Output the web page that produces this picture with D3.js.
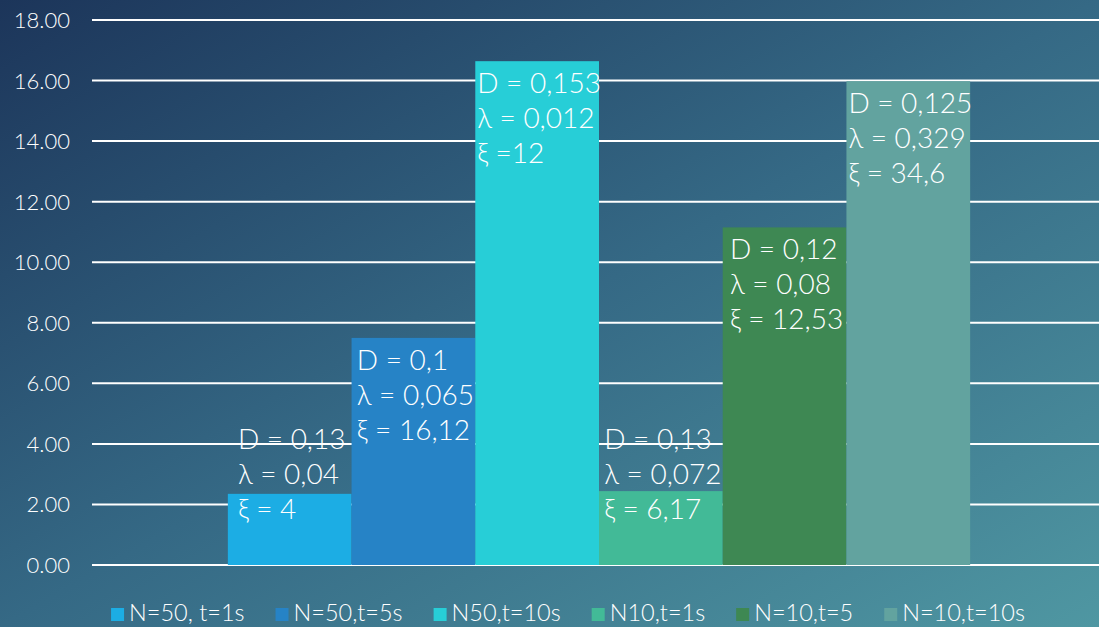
<!DOCTYPE html>
<html>
<head>
<meta charset="utf-8">
<script src="https://cdn.jsdelivr.net/npm/d3@7"></script>
<style>
  html, body { margin: 0; padding: 0; overflow: hidden; }
  svg { display: block; }
  text { font-family: "Lato", "Open Sans", sans-serif; font-weight: 300; fill: #ffffff; }
</style>
</head>
<body>
<svg id="chart" width="1099" height="627"></svg>
<script>
// Series shown as one clustered group
const seriesNames = ["N=50, t=1s", "N=50,t=5s", "N50,t=10s", "N10,t=1s", "N=10,t=5", "N=10,t=10s"];
const seriesValues = [2.35, 7.5, 16.64, 2.44, 11.15, 15.98];
const seriesColors = ["#1CADE4", "#2683C6", "#27CED7", "#42BA97", "#3E8853", "#62A39F"];
const labelD   = ["D = 0,13", "D = 0,1", "D = 0,153", "D = 0,13", "D = 0,12", "D = 0,125"];
const labelLam = ["λ = 0,04", "λ = 0,065", "λ = 0,012", "λ = 0,072", "λ = 0,08", "λ = 0,329"];
const labelXi  = ["ξ = 4", "ξ = 16,12", "ξ =12", "ξ = 6,17", "ξ = 12,53", "ξ = 34,6"];
const yTicks = [0, 2, 4, 6, 8, 10, 12, 14, 16, 18];

const W = 1099, H = 627;
const margin = { left: 92, right: -7, top: 20, bottom: 62 };
const svg = d3.select("#chart");

// Background gradient
const defs = svg.append("defs");
const bg = defs.append("linearGradient").attr("id", "bg")
  .attr("x1", "0%").attr("y1", "0%").attr("x2", "100%").attr("y2", "100%");
bg.append("stop").attr("offset", "0%").attr("stop-color", "#1C355A");
bg.append("stop").attr("offset", "50%").attr("stop-color", "#356985");
bg.append("stop").attr("offset", "100%").attr("stop-color", "#4F97A2");
svg.append("rect").attr("width", W).attr("height", H).attr("fill", "url(#bg)");

const x0 = d3.scaleBand().domain(["group"])
  .range([margin.left, W - margin.right]).paddingInner(0).paddingOuter(0.183);
const x1 = d3.scaleBand().domain(seriesNames).range([0, x0.bandwidth()]).padding(0);
const y = d3.scaleLinear().domain([0, 18]).range([H - margin.bottom, margin.top]);

// Gridlines
svg.append("g").selectAll("line").data(yTicks).join("line")
  .attr("x1", margin.left).attr("x2", W)
  .attr("y1", d => y(d)).attr("y2", d => y(d))
  .attr("stroke", "#ffffff").attr("stroke-width", 2);

// Y axis labels
const yAxis = d3.axisLeft(y).tickValues(yTicks).tickFormat(d3.format(".2f")).tickSize(0).tickPadding(0);
const yg = svg.append("g").attr("transform", `translate(70,0)`).call(yAxis);
yg.select(".domain").remove();
yg.selectAll("text").attr("font-size", 22).attr("font-family", "Lato, sans-serif")
  .attr("font-weight", 300).attr("fill", "#ffffff").attr("dy", "0.34em");

// Bars
const gx = x0("group");
svg.append("g").selectAll("rect").data(seriesNames).join("rect")
  .attr("x", d => gx + x1(d))
  .attr("y", (d, i) => y(seriesValues[i]))
  .attr("width", x1.bandwidth())
  .attr("height", (d, i) => y(0) - y(seriesValues[i]))
  .attr("fill", (d, i) => seriesColors[i]);

// Data labels: three lines, centred block, placed inside the bar end or above short bars
const lineGap = 35;
const lg = svg.append("g");
seriesNames.forEach((name, i) => {
  const top = y(seriesValues[i]);
  const firstBase = Math.min(top + 32, y(0) - 116);
  const t = lg.append("text").attr("font-size", 28);
  [labelD[i], labelLam[i], labelXi[i]].forEach((s, k) => {
    t.append("tspan").attr("y", firstBase + k * lineGap).text(s);
  });
  let maxW = 0;
  t.selectAll("tspan").each(function() { maxW = Math.max(maxW, this.getComputedTextLength()); });
  const cx = gx + x1(name) + x1.bandwidth() / 2;
  t.selectAll("tspan").attr("x", cx - maxW / 2 + 2);
});

// Legend
const legend = svg.append("g");
const itemGap = 31, sw = 13, swGap = 5;
let lx = 0;
seriesNames.forEach((name, i) => {
  const g = legend.append("g");
  g.append("rect").attr("x", lx).attr("y", -13).attr("width", sw).attr("height", sw).attr("fill", seriesColors[i]);
  const tx = g.append("text").attr("x", lx + sw + swGap).attr("y", 0).attr("font-size", 23.5).text(name);
  lx += sw + swGap + tx.node().getComputedTextLength() + itemGap;
});
const legendW = lx - itemGap;
legend.attr("transform", `translate(${568 - legendW / 2},621)`);
</script>
</body>
</html>
